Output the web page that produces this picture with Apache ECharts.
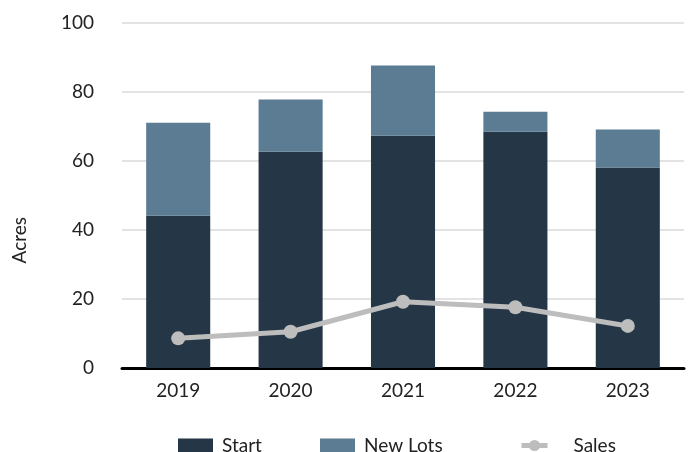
<!DOCTYPE html>
<html><head><meta charset="utf-8">
<script src="https://cdn.jsdelivr.net/npm/echarts@6/dist/echarts.min.js"></script>
<style>html,body{margin:0;padding:0;background:#fff}#c{width:690px;height:452px}</style>
</head><body><div id="c"></div>
<script>
const categories = ['2019','2020','2021','2022','2023'];
const startVals = [44.1, 62.7, 67.3, 68.5, 58.1];
const newLotsVals = [27.0, 15.1, 20.4, 5.8, 11.0];
const salesVals = [8.6, 10.5, 19.2, 17.6, 12.2];

const chart = echarts.init(document.getElementById('c'));
const font = 'Lato, "Noto Sans", sans-serif';
const legText = { fontSize: 19, color: '#222', fontFamily: font, padding: [0, 0, 0, 4] };
chart.setOption({
  animation: false,
  textStyle: { fontFamily: font },
  grid: { left: 122, right: 6, top: 23, bottom: 84, containLabel: false },
  legend: [
    { left: 178, top: 436, padding: 0, itemWidth: 35, itemHeight: 14,
      textStyle: legText, data: [{ name: 'Start', icon: 'rect' }] },
    { left: 320, top: 436, padding: 0, itemWidth: 35, itemHeight: 14,
      textStyle: legText, data: [{ name: 'New Lots', icon: 'rect' }] },
    { left: 519, top: 436, padding: 0, itemWidth: 26, itemHeight: 14,
      lineStyle: { width: 5, color: '#bdbdbd' },
      textStyle: Object.assign({}, legText, { padding: [0, 0, 0, 21] }), data: [{ name: 'Sales' }] }
  ],
  xAxis: {
    type: 'category', data: categories,
    axisLine: { lineStyle: { color: '#000', width: 3 } },
    axisTick: { show: false },
    axisLabel: { fontSize: 19, color: '#222', margin: 13, fontFamily: font }
  },
  yAxis: {
    type: 'value', min: 0, max: 100, interval: 20,
    axisLine: { show: false }, axisTick: { show: false },
    axisLabel: { fontSize: 19, color: '#222', margin: 28, fontFamily: font },
    splitLine: { lineStyle: { color: '#e3e3e3', width: 2 } }
  },
  graphic: [{
    type: 'text', left: 10, top: 217, rotation: Math.PI / 2,
    style: { text: 'Acres', fontSize: 19, fill: '#222', fontFamily: font }
  }],
  series: [
    { name: 'Start', type: 'bar', stack: 'a', data: startVals, barWidth: '57%',
      itemStyle: { color: '#253746' } },
    { name: 'New Lots', type: 'bar', stack: 'a', data: newLotsVals, barWidth: '57%',
      itemStyle: { color: '#5b7c93' } },
    { name: 'Sales', type: 'line', data: salesVals, smooth: false,
      symbol: 'circle', symbolSize: 14,
      lineStyle: { color: '#bdbdbd', width: 5 },
      itemStyle: { color: '#bdbdbd' } }
  ]
});
</script></body></html>
